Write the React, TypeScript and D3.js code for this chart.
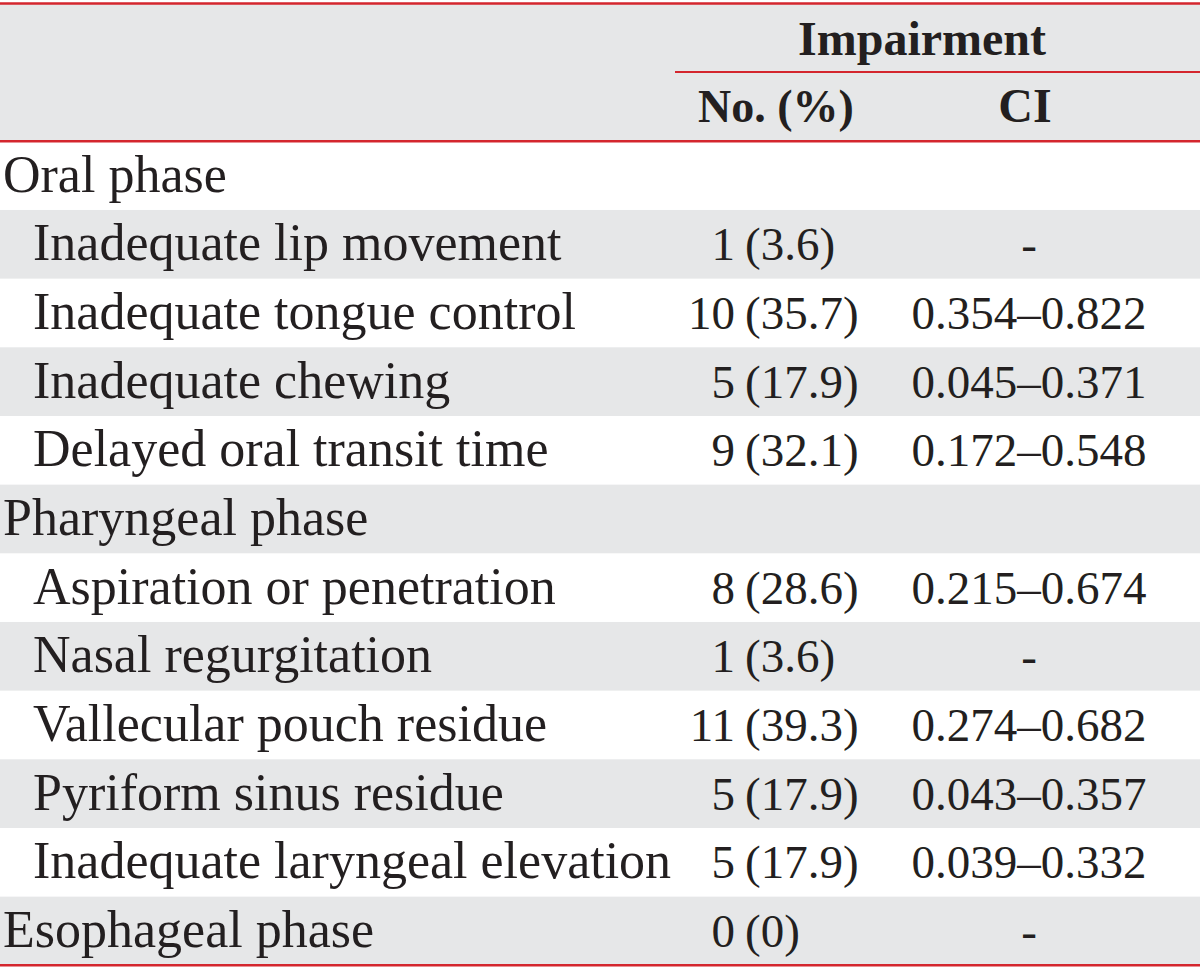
import React from "react";
import * as d3 from "d3";

const rowLabels = [
  "Oral phase",
  "Inadequate lip movement",
  "Inadequate tongue control",
  "Inadequate chewing",
  "Delayed oral transit time",
  "Pharyngeal phase",
  "Aspiration or penetration",
  "Nasal regurgitation",
  "Vallecular pouch residue",
  "Pyriform sinus residue",
  "Inadequate laryngeal elevation",
  "Esophageal phase",
];
const rowIsGroup = [true, false, false, false, false, true, false, false, false, false, false, true];
const counts: (string | null)[] = [null, "1", "10", "5", "9", null, "8", "1", "11", "5", "5", "0"];
const percents: (string | null)[] = [null, "3.6", "35.7", "17.9", "32.1", null, "28.6", "3.6", "39.3", "17.9", "17.9", "0"];
const ciValues: (string | null)[] = [
  null,
  "-",
  "0.354–0.822",
  "0.045–0.371",
  "0.172–0.548",
  null,
  "0.215–0.674",
  "-",
  "0.274–0.682",
  "0.043–0.357",
  "0.039–0.332",
  "-",
];
const headerGroup = "Impairment";
const headerCols = ["No. (%)", "CI"];

const W = 1200;
const H = 970;
const RED = "#d4262e";
const GRAY = "#e6e7e8";
const INK = "#231f20";
const FONT = "'Liberation Serif', 'Times New Roman', serif";

export default function App() {
  const y = d3.scaleLinear().domain([0, rowLabels.length]).range([141.3, 965.3]);
  const rowH = y(1) - y(0);
  const xCountEnd = 735;
  const xPctStart = 745;
  const xCI = 1029;
  const fsLabel = 52;
  const fsNum = 47;
  const fsHead = 48;

  return (
    <div style={{ position: "absolute", left: 0, top: 0 }}>
      <svg width={W} height={H} style={{ display: "block", background: "#fff" }}>
        <rect x={0} y={3} width={W} height={y(0) - 3} fill={GRAY} />
        {rowLabels.map((_, i) =>
          i % 2 === 1 ? (
            <rect key={"s" + i} x={0} y={y(i)} width={W} height={rowH} fill={GRAY} />
          ) : null
        )}
        <text x={922} y={55} textAnchor="middle" fontFamily={FONT} fontWeight="bold" fontSize={fsHead} fill={INK}>
          {headerGroup}
        </text>
        <line x1={675} x2={W} y1={72} y2={72} stroke={RED} strokeWidth={2.2} />
        <text x={776} y={122} textAnchor="middle" fontFamily={FONT} fontWeight="bold" fontSize={46} fill={INK}>
          {headerCols[0]}
        </text>
        <text x={xCI - 4} y={122} textAnchor="middle" fontFamily={FONT} fontWeight="bold" fontSize={fsHead} fill={INK}>
          {headerCols[1]}
        </text>
        {rowLabels.map((lab, i) => {
          const base = y(i) + 50.5;
          return (
            <g key={"r" + i} fontFamily={FONT} fill={INK}>
              <text x={rowIsGroup[i] ? 3 : 33} y={base} fontSize={fsLabel}>
                {lab}
              </text>
              {counts[i] !== null && (
                <text x={xCountEnd} y={base} textAnchor="end" fontSize={fsNum}>
                  {counts[i]}
                </text>
              )}
              {percents[i] !== null && (
                <text x={xPctStart} y={base} fontSize={fsNum}>
                  {"(" + percents[i] + ")"}
                </text>
              )}
              {ciValues[i] !== null && (
                <text x={xCI} y={base} textAnchor="middle" fontSize={fsNum}>
                  {ciValues[i]}
                </text>
              )}
            </g>
          );
        })}
        <line x1={0} x2={W} y1={3.5} y2={3.5} stroke={RED} strokeWidth={2.4} />
        <line x1={0} x2={W} y1={y(0)} y2={y(0)} stroke={RED} strokeWidth={2.4} />
        <line x1={0} x2={W} y1={y(rowLabels.length)} y2={y(rowLabels.length)} stroke={RED} strokeWidth={2.4} />
      </svg>
    </div>
  );
}
